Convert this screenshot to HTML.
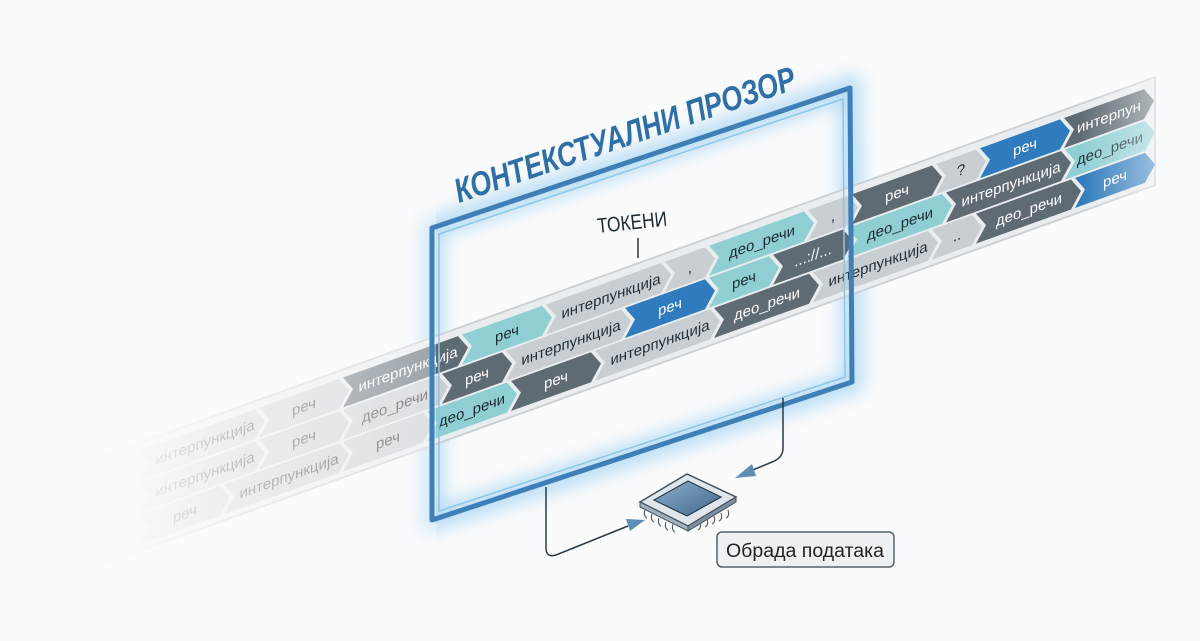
<!DOCTYPE html>
<html><head><meta charset="utf-8">
<style>
html,body{margin:0;padding:0;background:#fafbfc;}
svg{display:block}
text{font-family:"Liberation Sans",sans-serif;}
</style></head>
<body>
<svg width="1200" height="641" viewBox="0 0 1200 641" xmlns="http://www.w3.org/2000/svg">
<defs>
<filter id="glow" x="-20%" y="-20%" width="140%" height="140%"><feGaussianBlur stdDeviation="9"/></filter>
<linearGradient id="fadeL" x1="0" y1="0" x2="1" y2="0">
<stop offset="0" stop-color="#fafbfc" stop-opacity="1"/>
<stop offset="0.3" stop-color="#fafbfc" stop-opacity="0.95"/>
<stop offset="0.55" stop-color="#fafbfc" stop-opacity="0.7"/>
<stop offset="1" stop-color="#fafbfc" stop-opacity="0.4"/>
</linearGradient>
<linearGradient id="fadeR" x1="0" y1="0" x2="1" y2="0">
<stop offset="0" stop-color="#fafbfc" stop-opacity="0"/>
<stop offset="0.6" stop-color="#fafbfc" stop-opacity="0.5"/>
<stop offset="1" stop-color="#fafbfc" stop-opacity="1"/>
</linearGradient>
<linearGradient id="chip" x1="0" y1="0" x2="1" y2="1">
<stop offset="0" stop-color="#8fb0cf"/><stop offset="1" stop-color="#3f6688"/>
</linearGradient>
</defs>

<polygon points="432,228 850,88 852,382 432,520" fill="none" stroke="#7fc3ef" stroke-width="22" opacity="0.55" filter="url(#glow)"/>

<g transform="matrix(1,-0.36,0,1,0,499)" font-size="15">
<rect x="-50" y="-6" width="1205" height="108" fill="#e9edf0" stroke="#c9d0d6" stroke-width="2"/>
<g>
<path d="M140,2h115l10,15l-10,15h-115l10,-15z" fill="#c9ced2"/><text x="205" y="22" text-anchor="middle" fill="#333">интерпункција</text>
<path d="M259,2h80l10,15l-10,15h-80l10,-15z" fill="#c9ced2"/><text x="304" y="22" text-anchor="middle" fill="#333">реч</text>
<path d="M343,2h115l10,15l-10,15h-115l10,-15z" fill="#5f6b73"/><text x="408" y="22" text-anchor="middle" fill="#fff">интерпункција</text>
<path d="M462,2h80l10,15l-10,15h-80l10,-15z" fill="#8fcfd3"/><text x="507" y="22" text-anchor="middle" fill="#1d2a33">реч</text>
<path d="M546,2h115l10,15l-10,15h-115l10,-15z" fill="#c9ced2"/><text x="611" y="22" text-anchor="middle" fill="#22303a">интерпункција</text>
<path d="M665,2h40l10,15l-10,15h-40l10,-15z" fill="#c9ced2"/><text x="690" y="22" text-anchor="middle" fill="#22303a">,</text>
<path d="M709,2h95l10,15l-10,15h-95l10,-15z" fill="#8fcfd3"/><text x="762" y="22" text-anchor="middle" fill="#1d2a33">део_речи</text>
<path d="M808,2h40l10,15l-10,15h-40l10,-15z" fill="#c9ced2"/><text x="833" y="22" text-anchor="middle" fill="#22303a">,</text>
<path d="M852,2h80l10,15l-10,15h-80l10,-15z" fill="#5f6b73"/><text x="897" y="22" text-anchor="middle" fill="#fff">реч</text>
<path d="M936,2h40l10,15l-10,15h-40l10,-15z" fill="#c9ced2"/><text x="961" y="22" text-anchor="middle" fill="#22303a">?</text>
<path d="M980,2h80l10,15l-10,15h-80l10,-15z" fill="#2f7bbd"/><text x="1025" y="22" text-anchor="middle" fill="#fff">реч</text>
<path d="M1064,2h80l10,15l-10,15h-80l10,-15z" fill="#5f6b73"/><text x="1109" y="22" text-anchor="middle" fill="#fff">интерпун</text>
</g>
<g transform="translate(0,32)">
<path d="M140,2h115l10,15l-10,15h-115l10,-15z" fill="#c9ced2"/><text x="205" y="22" text-anchor="middle" fill="#333">интерпункција</text>
<path d="M259,2h80l10,15l-10,15h-80l10,-15z" fill="#c9ced2"/><text x="304" y="22" text-anchor="middle" fill="#333">реч</text>
<path d="M343,2h95l10,15l-10,15h-95l10,-15z" fill="#c9ced2"/><text x="395" y="22" text-anchor="middle" fill="#333">део_речи</text>
<path d="M442,2h60l10,15l-10,15h-60l10,-15z" fill="#5f6b73"/><text x="477" y="22" text-anchor="middle" fill="#fff">реч</text>
<path d="M506,2h115l10,15l-10,15h-115l10,-15z" fill="#c9ced2"/><text x="571" y="22" text-anchor="middle" fill="#22303a">интерпункција</text>
<path d="M625,2h80l10,15l-10,15h-80l10,-15z" fill="#2f7bbd"/><text x="670" y="22" text-anchor="middle" fill="#fff">реч</text>
<path d="M709,2h60l10,15l-10,15h-60l10,-15z" fill="#8fcfd3"/><text x="744" y="22" text-anchor="middle" fill="#1d2a33">реч</text>
<path d="M773,2h70l10,15l-10,15h-70l10,-15z" fill="#5f6b73"/><text x="813" y="22" text-anchor="middle" fill="#fff">...://...</text>
<path d="M847,2h95l10,15l-10,15h-95l10,-15z" fill="#8fcfd3"/><text x="900" y="22" text-anchor="middle" fill="#1d2a33">део_речи</text>
<path d="M946,2h115l10,15l-10,15h-115l10,-15z" fill="#5f6b73"/><text x="1011" y="22" text-anchor="middle" fill="#fff">интерпункција</text>
<path d="M1065,2h80l10,15l-10,15h-80l10,-15z" fill="#8fcfd3"/><text x="1110" y="22" text-anchor="middle" fill="#1d2a33">део_речи</text>
</g>
<g transform="translate(0,64)">
<path d="M140,2h80l10,15l-10,15h-80l10,-15z" fill="#c9ced2"/><text x="185" y="22" text-anchor="middle" fill="#333">реч</text>
<path d="M224,2h115l10,15l-10,15h-115l10,-15z" fill="#c9ced2"/><text x="289" y="22" text-anchor="middle" fill="#333">интерпункција</text>
<path d="M343,2h80l10,15l-10,15h-80l10,-15z" fill="#c9ced2"/><text x="388" y="22" text-anchor="middle" fill="#333">реч</text>
<path d="M427,2h80l10,15l-10,15h-80l10,-15z" fill="#8fcfd3"/><text x="472" y="22" text-anchor="middle" fill="#1d2a33">део_речи</text>
<path d="M511,2h80l10,15l-10,15h-80l10,-15z" fill="#5f6b73"/><text x="556" y="22" text-anchor="middle" fill="#fff">реч</text>
<path d="M595,2h115l10,15l-10,15h-115l10,-15z" fill="#c9ced2"/><text x="660" y="22" text-anchor="middle" fill="#22303a">интерпункција</text>
<path d="M714,2h95l10,15l-10,15h-95l10,-15z" fill="#5f6b73"/><text x="767" y="22" text-anchor="middle" fill="#fff">део_речи</text>
<path d="M813,2h115l10,15l-10,15h-115l10,-15z" fill="#c9ced2"/><text x="878" y="22" text-anchor="middle" fill="#22303a">интерпункција</text>
<path d="M932,2h40l10,15l-10,15h-40l10,-15z" fill="#c9ced2"/><text x="957" y="22" text-anchor="middle" fill="#22303a">..</text>
<path d="M976,2h95l10,15l-10,15h-95l10,-15z" fill="#5f6b73"/><text x="1029" y="22" text-anchor="middle" fill="#fff">део_речи</text>
<path d="M1075,2h70l10,15l-10,15h-70l10,-15z" fill="#2f7bbd"/><text x="1115" y="22" text-anchor="middle" fill="#fff">реч</text>
</g>
</g>

<polygon points="0,0 436,0 436,641 0,641" fill="url(#fadeL)"/>
<rect x="1080" y="0" width="120" height="641" fill="url(#fadeR)"/>

<polygon points="432,228 850,88 852,382 432,520" fill="none" stroke="#3f7fb8" stroke-width="5" stroke-linejoin="round"/>
<polygon points="439,234 843,99 845,377 439,511" fill="none" stroke="#8cc6ea" stroke-width="1.5" stroke-linejoin="round"/>

<text transform="translate(459,203) rotate(-18.7)" font-size="34" font-weight="bold" font-style="italic" fill="#2f6fa8" textLength="358" lengthAdjust="spacingAndGlyphs">КОНТЕКСТУАЛНИ ПРОЗОР</text>
<text transform="translate(598,233) rotate(-6)" font-size="21" fill="#1d2a33" textLength="70" lengthAdjust="spacingAndGlyphs">ТОКЕНИ</text>
<line x1="638" y1="238" x2="638" y2="258" stroke="#333" stroke-width="1.5"/>

<path d="M783,398 V448 Q783,458 772,462 L748,472" fill="none" stroke="#2a3a48" stroke-width="1.5"/>
<polygon points="735,478 752,464 756,476" fill="#5e8db5"/>
<path d="M546,487 V548 Q546,558 556,555 L628,526" fill="none" stroke="#2a3a48" stroke-width="1.5"/>
<polygon points="645,520 626,519 630,531" fill="#5e8db5"/>

<g stroke="#44525e" stroke-width="1" fill="none">
<path d="M645,510 q-2,6 2,8 M652,514 q-2,6 2,8 M659,518 q-2,6 2,8 M666,522 q-2,6 2,8 M673,524 q-2,6 2,8"/>
<path d="M700,522 q2,6 -2,8 M707,519 q2,6 -2,8 M714,516 q2,6 -2,8 M721,513 q2,6 -2,8 M728,510 q2,6 -2,8"/>
</g>
<polygon points="640,502 687,474 736,497 688,526" fill="#dfe6ec" stroke="#44525e" stroke-width="1.5"/>
<polygon points="640,502 688,526 688,531 640,507" fill="#9fb0bf" stroke="#44525e" stroke-width="1"/>
<polygon points="688,526 736,497 736,502 688,531" fill="#7d8f9f" stroke="#44525e" stroke-width="1"/>
<polygon points="654,500 688,481 721,497 687,516" fill="url(#chip)" stroke="#2a3a48" stroke-width="1.2"/>

<rect x="717" y="532" width="177" height="35" rx="5" fill="#eef1f4" stroke="#55626c" stroke-width="1.5"/>
<text x="805" y="557" font-size="19" text-anchor="middle" fill="#222" textLength="158" lengthAdjust="spacingAndGlyphs">Обрада података</text>
</svg>
</body></html>
